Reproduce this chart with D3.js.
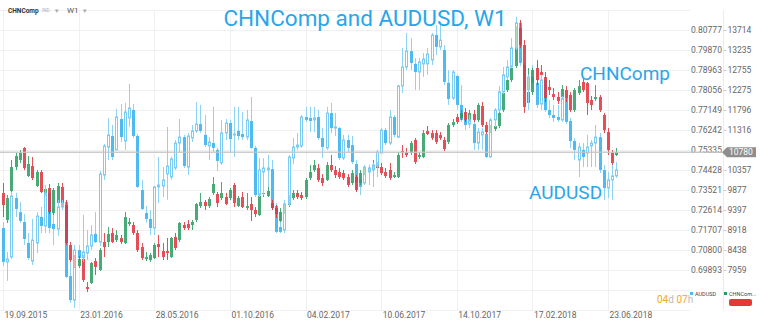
<!DOCTYPE html>
<html>
<head>
<meta charset="utf-8">
<script src="https://cdnjs.cloudflare.com/ajax/libs/d3/7.8.5/d3.min.js"></script>
<style>
  body { margin: 0; background: #fff; }
  svg { display: block; font-family: Roboto, "Open Sans", sans-serif; }
</style>
</head>
<body>
<svg class="chart"></svg>
<script>
const width = 760, height = 325;

const dateLabels = ["19.09.2015", "23.01.2016", "28.05.2016", "01.10.2016", "04.02.2017",
  "10.06.2017", "14.10.2017", "17.02.2018", "23.06.2018"];
const audTicks = [0.80777, 0.79870, 0.78963, 0.78056, 0.77149, 0.76242, 0.75335,
  0.74428, 0.73521, 0.72614, 0.71707, 0.70800, 0.69893];
// 10836 sits under the last-price badge, so it is not labelled
const chnTicks = [13714, 13235, 12755, 12275, 11796, 11316, 10357, 9877, 9397, 8918, 8438, 7959];
const chnLast = 10780;

// AUDUSD weekly
const audOpen = [0.7180,0.7026,0.7048,0.7316,0.7252,0.7207,0.7112,0.7030,0.7112,0.7230,
  0.7189,0.7339,0.7198,0.7175,0.7275,0.7298,0.6962,0.6853,0.7080,0.7044,
  0.7066,0.7098,0.7153,0.7116,0.7420,0.7547,0.7597,0.7534,0.7674,0.7574,
  0.7679,0.7715,0.7597,0.7352,0.7248,0.7221,0.7180,0.7366,0.7370,0.7425,
  0.7411,0.7452,0.7565,0.7592,0.7456,0.7588,0.7620,0.7651,0.7602,0.7552,
  0.7565,0.7534,0.7475,0.7611,0.7656,0.7602,0.7620,0.7606,0.7592,0.7665,
  0.7543,0.7329,0.7434,0.7443,0.7447,0.7280,0.7184,0.7171,0.7289,0.7497,
  0.7547,0.7552,0.7683,0.7679,0.7670,0.7683,0.7588,0.7543,0.7701,0.7633,
  0.7633,0.7497,0.7579,0.7556,0.7470,0.7398,0.7384,0.7434,0.7443,0.7461,
  0.7520,0.7624,0.7565,0.7683,0.7592,0.7824,0.7910,0.7982,0.7924,0.7887,
  0.7924,0.7924,0.7942,0.8055,0.8001,0.7987,0.7838,0.7769,0.7869,0.7738,
  0.7670,0.7651,0.7651,0.7565,0.7602,0.7606,0.7502,0.7670,0.7715,0.7797,
  0.7865,0.7910,0.7996,0.8110,0.7919,0.7806,0.7865,0.7838,0.7742,0.7851,
  0.7715,0.7692,0.7683,0.7670,0.7769,0.7665,0.7574,0.7488,0.7534,0.7520,
  0.7552,0.7565,0.7592,0.7443,0.7361,0.7398,0.7416];
const audHigh = [0.7207,0.7071,0.7343,0.7339,0.7298,0.7243,0.7157,0.7221,0.7252,0.7275,
  0.7375,0.7352,0.7271,0.7307,0.7307,0.7302,0.7026,0.7103,0.7103,0.7239,
  0.7171,0.7193,0.7252,0.7438,0.7561,0.7679,0.7647,0.7720,0.7742,0.7747,
  0.7833,0.7742,0.7606,0.7398,0.7280,0.7261,0.7370,0.7502,0.7456,0.7638,
  0.7502,0.7579,0.7674,0.7602,0.7611,0.7647,0.7751,0.7738,0.7692,0.7592,
  0.7729,0.7543,0.7670,0.7674,0.7670,0.7729,0.7729,0.7706,0.7715,0.7774,
  0.7552,0.7497,0.7497,0.7511,0.7488,0.7293,0.7261,0.7307,0.7511,0.7588,
  0.7611,0.7692,0.7729,0.7729,0.7729,0.7715,0.7633,0.7729,0.7747,0.7701,
  0.7638,0.7602,0.7602,0.7597,0.7488,0.7434,0.7466,0.7466,0.7475,0.7534,
  0.7633,0.7633,0.7715,0.7692,0.7828,0.7996,0.8064,0.8041,0.7951,0.7951,
  0.7973,0.7996,0.8064,0.8100,0.8114,0.8010,0.7896,0.7896,0.7874,0.7828,
  0.7715,0.7692,0.7670,0.7633,0.7633,0.7624,0.7679,0.7724,0.7824,0.7910,
  0.7942,0.8041,0.8137,0.8119,0.7933,0.7874,0.7919,0.7928,0.7874,0.7874,
  0.7760,0.7738,0.7738,0.7778,0.7778,0.7679,0.7588,0.7565,0.7565,0.7602,
  0.7579,0.7647,0.7611,0.7466,0.7434,0.7466,0.7479];
const audLow = [0.7008,0.6940,0.7039,0.7230,0.7203,0.7103,0.7035,0.7012,0.7066,0.7157,
  0.7157,0.7157,0.7103,0.7144,0.7261,0.6953,0.6840,0.6817,0.7026,0.7026,
  0.7035,0.7080,0.7112,0.7098,0.7398,0.7488,0.7488,0.7534,0.7570,0.7534,
  0.7638,0.7588,0.7361,0.7261,0.7203,0.7148,0.7148,0.7293,0.7320,0.7307,
  0.7398,0.7443,0.7524,0.7452,0.7420,0.7570,0.7611,0.7611,0.7547,0.7488,
  0.7524,0.7438,0.7466,0.7579,0.7524,0.7502,0.7579,0.7579,0.7579,0.7538,
  0.7320,0.7320,0.7329,0.7366,0.7261,0.7157,0.7157,0.7157,0.7280,0.7470,
  0.7534,0.7543,0.7661,0.7615,0.7615,0.7579,0.7497,0.7534,0.7611,0.7597,
  0.7488,0.7488,0.7524,0.7470,0.7343,0.7329,0.7375,0.7375,0.7366,0.7411,
  0.7520,0.7556,0.7556,0.7592,0.7588,0.7792,0.7896,0.7896,0.7806,0.7806,
  0.7865,0.7874,0.7919,0.7964,0.7987,0.7828,0.7738,0.7760,0.7715,0.7661,
  0.7624,0.7633,0.7534,0.7534,0.7534,0.7497,0.7497,0.7638,0.7706,0.7787,
  0.7851,0.7905,0.7987,0.7914,0.7792,0.7715,0.7819,0.7724,0.7715,0.7706,
  0.7679,0.7661,0.7661,0.7661,0.7651,0.7543,0.7488,0.7411,0.7456,0.7456,
  0.7456,0.7456,0.7429,0.7307,0.7316,0.7307,0.7407];
const audClose = [0.7026,0.7039,0.7325,0.7266,0.7212,0.7130,0.7044,0.7125,0.7234,0.7189,
  0.7339,0.7180,0.7175,0.7275,0.7293,0.6958,0.6853,0.7080,0.7044,0.7071,
  0.7098,0.7148,0.7116,0.7425,0.7552,0.7602,0.7502,0.7683,0.7592,0.7706,
  0.7724,0.7597,0.7366,0.7266,0.7221,0.7180,0.7366,0.7375,0.7398,0.7461,
  0.7493,0.7565,0.7592,0.7461,0.7597,0.7620,0.7651,0.7620,0.7556,0.7570,
  0.7543,0.7484,0.7611,0.7656,0.7583,0.7606,0.7597,0.7592,0.7670,0.7543,
  0.7329,0.7443,0.7452,0.7452,0.7271,0.7162,0.7162,0.7289,0.7502,0.7547,
  0.7556,0.7683,0.7670,0.7665,0.7679,0.7588,0.7547,0.7701,0.7633,0.7638,
  0.7497,0.7579,0.7543,0.7479,0.7388,0.7366,0.7456,0.7452,0.7466,0.7524,
  0.7624,0.7565,0.7683,0.7602,0.7824,0.7910,0.7982,0.7928,0.7887,0.7933,
  0.7946,0.7969,0.8055,0.8001,0.8032,0.7842,0.7765,0.7887,0.7738,0.7670,
  0.7647,0.7670,0.7565,0.7615,0.7615,0.7502,0.7670,0.7715,0.7797,0.7874,
  0.7910,0.7996,0.8110,0.7928,0.7806,0.7865,0.7838,0.7738,0.7851,0.7715,
  0.7692,0.7679,0.7670,0.7769,0.7661,0.7574,0.7534,0.7547,0.7502,0.7547,
  0.7565,0.7592,0.7443,0.7361,0.7398,0.7416,0.7443];

// CHNComp weekly
const chnOpen = [9805,9158,9853,10428,10596,10884,10212,10452,9973,10308,
  9805,9925,9325,9565,9949,9517,8558,8151,8055,8222,
  7551,7647,8175,7959,8630,8630,8846,8678,8726,8606,
  9062,9038,8846,8510,8222,8199,8246,8582,8414,8414,
  8270,8750,8678,9038,9062,9038,9158,9493,9589,9493,
  9805,9781,9685,9709,9685,9997,9493,9709,9445,9541,
  9397,9277,9781,9733,9565,9445,9134,9349,9517,9685,
  9805,9757,9709,10164,10356,10404,10164,10117,10476,10356,
  10308,10284,10188,10045,10188,10045,10284,10308,10404,10452,
  10428,10308,10356,10188,10188,10812,10788,10764,11076,10668,
  10668,11291,11243,11243,11195,11076,11028,11435,11627,11603,
  11747,11555,11699,11555,11891,11435,11291,11339,11411,11795,
  12274,12514,12850,13761,13353,11963,12226,12802,12706,12586,
  12346,12178,12107,12107,12274,12155,11795,12202,12466,12442,
  12035,12059,12107,11675,11267,10764,10716];
const chnHigh = [10045,9757,10596,10764,10836,10908,10692,10668,10356,10356,
  9997,10021,9925,10045,10045,9637,8630,8318,8294,8318,
  7671,8151,8246,8486,8846,8990,8966,8918,8798,9349,
  9206,9110,8918,8606,8390,8366,8606,8798,8606,8726,
  8750,8846,9110,9110,9158,9158,9565,9805,9637,9709,
  10188,9829,10069,9805,9925,10045,9733,9829,9805,9709,
  9469,9805,9997,9949,9637,9517,9445,9565,9757,9877,
  9877,9829,10164,10476,10596,10500,10260,10548,10716,10452,
  10404,10356,10260,10356,10236,10356,10476,10476,10596,10548,
  10524,10404,10524,10308,10788,10956,10884,11052,11123,10788,
  11315,11411,11315,11315,11267,11148,11483,11579,11699,11795,
  11843,11795,11795,11963,11987,11507,11435,11459,11771,12250,
  12610,12874,13809,13953,13473,12802,12802,12994,12874,12706,
  12514,12322,12226,12394,12370,12226,12322,12514,12562,12466,
  12130,12394,12155,11723,11363,10836,10884];
const chnLow = [9229,9086,9805,10356,10524,10356,10188,10117,9949,9805,
  9733,9301,9277,9517,9445,8558,8151,8007,8007,7671,
  7431,7623,7839,7935,8270,8510,8606,8630,8582,8582,
  9014,8798,8390,8199,8175,8151,8222,8270,8199,8199,
  8246,8438,8630,8918,8918,8918,9110,9445,9397,9445,
  9757,9469,9637,9517,9637,9469,9469,9445,9397,9134,
  9229,9253,9709,9709,9397,9206,9110,9301,9469,9637,
  9661,9637,9661,10117,10308,10069,9973,10093,10308,10164,
  10141,10117,9949,9997,9829,9997,10236,10260,10356,10356,
  10236,10164,10117,10164,10164,10644,10668,10716,10500,10620,
  10644,11195,11076,10980,11076,10812,10980,11387,11459,11555,
  11507,11507,11507,11507,11387,11219,11243,11291,11363,11747,
  12226,12466,12802,13281,11723,11867,12155,12394,12514,11987,
  12155,12035,11939,12035,11987,11747,11747,12155,12226,11675,
  11795,12011,11747,11243,10716,10452,10692];
const chnClose = [9517,9685,10428,10692,10764,10404,10500,10164,10308,9829,
  9901,9349,9877,9973,9469,8606,8199,8079,8222,7719,
  7503,8127,8031,8438,8510,8822,8630,8798,8630,9229,
  9110,8846,8438,8246,8270,8318,8558,8510,8270,8366,
  8726,8486,9086,8966,8966,9110,9541,9589,9493,9661,
  10021,9565,9805,9541,9877,9565,9685,9469,9493,9397,
  9301,9733,9805,9853,9445,9301,9349,9517,9685,9805,
  9709,9685,10117,10308,10476,10117,10045,10476,10356,10236,
  10188,10164,9997,10284,9877,10284,10404,10380,10476,10404,
  10284,10212,10164,10236,10716,10764,10716,11004,10548,10716,
  11243,11219,11123,11028,11123,10860,11435,11507,11507,11723,
  11555,11723,11555,11915,11435,11267,11387,11411,11723,12202,
  12514,12802,13713,13353,11867,12226,12754,12514,12634,12083,
  12274,12107,12011,12298,12083,11795,12274,12370,12274,11963,
  11915,12107,11795,11315,10836,10524,10780];

const audFill = "#4dbaf2", audWick = "#8dd3f6", audHollow = "#7ccbf3";
const chnUp = "#279c60", chnDown = "#e2303a";

const svg = d3.select(".chart").attr("width", width).attr("height", height);

const parse = d3.timeParse("%d.%m.%Y");
const tickDates = dateLabels.map(parse);
const weeks = audClose.map((d, i) => d3.timeDay.offset(tickDates[0], 7 * i));

let x = d3.scaleTime()
  .domain([tickDates[0], tickDates[tickDates.length - 1]])
  .range([3, 608]);
let yAud = d3.scaleLinear()
  .domain([audTicks[audTicks.length - 1], audTicks[0]])
  .range([270, 30]);
let yChn = d3.scaleLinear()
  .domain([chnTicks[chnTicks.length - 1], chnTicks[0]])
  .range([270, 30]);

// grid
const step = audTicks[0] - audTicks[1];
const gridVals = d3.range(-1, audTicks.length + 2).map(k => audTicks[0] - k * step);
const grid = svg.append("g").attr("stroke", "#f0f0f0").attr("stroke-width", 1);
grid.selectAll("line.h").data(gridVals).join("line")
  .attr("x1", 0).attr("x2", 690)
  .attr("y1", d => Math.round(yAud(d)) + 0.5).attr("y2", d => Math.round(yAud(d)) + 0.5);
grid.selectAll("line.v").data(tickDates).join("line")
  .attr("x1", d => Math.round(x(d)) + 0.5).attr("x2", d => Math.round(x(d)) + 0.5)
  .attr("y1", 10).attr("y2", 310);
svg.append("line").attr("x1", 723.5).attr("x2", 723.5).attr("y1", 10).attr("y2", 310)
  .attr("stroke", "#ececec");

// x axis labels
let xAxis = d3.axisBottom(x).tickValues(tickDates).tickSize(0).tickFormat(d3.timeFormat("%d.%m.%Y"));
svg.append("g")
  .attr("transform", "translate(0,309)")
  .call(xAxis)
  .call(g => g.select(".domain").remove())
  .selectAll("text")
  .attr("text-anchor", "start")
  .attr("dx", 1)
  .attr("fill", "#666")
  .style("font-size", "8.5px")
  .style("font-family", "Roboto, sans-serif");

// right axes
let audAxis = d3.axisRight(yAud).tickValues(audTicks).tickSize(0).tickFormat(d3.format(".5f"));
svg.append("g")
  .attr("transform", "translate(689,0)")
  .call(audAxis)
  .call(g => g.select(".domain").remove())
  .selectAll("text")
  .attr("x", 2)
  .attr("fill", "#666")
  .style("font-size", "8.5px")
  .style("font-family", "Roboto, sans-serif");

let chnAxis = d3.axisRight(yChn).tickValues(chnTicks).tickSize(3).tickFormat(d3.format("d"));
svg.append("g")
  .attr("transform", "translate(723.5,0)")
  .call(chnAxis)
  .call(g => g.select(".domain").remove())
  .call(g => g.selectAll("line").attr("stroke", "#ccc"))
  .selectAll("text")
  .attr("x", 4)
  .attr("fill", "#666")
  .style("font-size", "8.5px")
  .style("font-family", "Roboto, sans-serif");

const cx = i => Math.round(x(weeks[i]));
const idx = d3.range(audClose.length);

// AUDUSD falling weeks (filled)
const audDown = idx.filter(i => audClose[i] < audOpen[i]);
const audUp = idx.filter(i => audClose[i] >= audOpen[i]);

const gAudDown = svg.append("g");
gAudDown.selectAll("line").data(audDown).join("line")
  .attr("x1", i => cx(i) + 0.5).attr("x2", i => cx(i) + 0.5)
  .attr("y1", i => yAud(audHigh[i])).attr("y2", i => yAud(audLow[i]))
  .attr("stroke", audWick).attr("stroke-width", 1);
gAudDown.selectAll("rect").data(audDown).join("rect")
  .attr("x", i => cx(i) - 1).attr("width", 3)
  .attr("y", i => yAud(audOpen[i]))
  .attr("height", i => Math.max(1, yAud(audClose[i]) - yAud(audOpen[i])))
  .attr("fill", audFill);

// CHNComp candles
const gChn = svg.append("g").attr("opacity", 0.85);
gChn.selectAll("line").data(idx).join("line")
  .attr("x1", i => cx(i) + 0.5).attr("x2", i => cx(i) + 0.5)
  .attr("y1", i => yChn(chnHigh[i])).attr("y2", i => yChn(chnLow[i]))
  .attr("stroke", i => chnClose[i] >= chnOpen[i] ? chnUp : chnDown).attr("stroke-width", 1);
gChn.selectAll("rect").data(idx).join("rect")
  .attr("x", i => cx(i) - 1).attr("width", 3)
  .attr("y", i => yChn(Math.max(chnOpen[i], chnClose[i])))
  .attr("height", i => Math.max(1, Math.abs(yChn(chnOpen[i]) - yChn(chnClose[i]))))
  .attr("fill", i => chnClose[i] >= chnOpen[i] ? chnUp : chnDown);

// AUDUSD rising weeks (hollow)
const gAudUp = svg.append("g");
gAudUp.selectAll("line.hi").data(audUp).join("line")
  .attr("x1", i => cx(i) + 0.5).attr("x2", i => cx(i) + 0.5)
  .attr("y1", i => yAud(audHigh[i])).attr("y2", i => yAud(audClose[i]))
  .attr("stroke", audWick);
gAudUp.selectAll("line.lo").data(audUp).join("line")
  .attr("x1", i => cx(i) + 0.5).attr("x2", i => cx(i) + 0.5)
  .attr("y1", i => yAud(audOpen[i])).attr("y2", i => yAud(audLow[i]))
  .attr("stroke", audWick);
gAudUp.selectAll("rect").data(audUp).join("rect")
  .attr("x", i => cx(i) - 0.5).attr("width", 2)
  .attr("y", i => yAud(audClose[i]))
  .attr("height", i => Math.max(1, yAud(audOpen[i]) - yAud(audClose[i])))
  .attr("fill", "rgba(255,255,255,0.55)")
  .attr("stroke", audHollow).attr("stroke-width", 1);

// last price line + badge
const yLast = yChn(chnLast);
svg.append("line").attr("x1", 0).attr("x2", 722).attr("y1", yLast).attr("y2", yLast)
  .attr("stroke", "#c4c4c4").attr("stroke-width", 1.5).attr("opacity", 0.85);
svg.append("path")
  .attr("d", `M722,${yLast} L727,${yLast - 5} L756,${yLast - 5} L756,${yLast + 5} L727,${yLast + 5} Z`)
  .attr("fill", "#8e8e8e");
svg.append("text").attr("x", 729).attr("y", yLast + 3)
  .attr("fill", "#fff").style("font-size", "8.5px").text(d3.format("d")(chnLast));

// titles
svg.append("text").attr("x", 365).attr("y", 26).attr("text-anchor", "middle")
  .attr("fill", "#29a6ea").style("font-size", "22.5px").text("CHNComp and AUDUSD, W1");
svg.append("text").attr("x", 580).attr("y", 80)
  .attr("fill", "#29a6ea").style("font-size", "19px").text("CHNComp");
svg.append("text").attr("x", 529).attr("y", 199)
  .attr("fill", "#29a6ea").style("font-size", "19px").text("AUDUSD");

// header
svg.append("text").attr("x", 8).attr("y", 13).attr("fill", "#333")
  .style("font-size", "6.5px").style("font-weight", "bold").text("CHNComp");
svg.append("text").attr("x", 42).attr("y", 12).attr("fill", "#aab")
  .style("font-size", "4.5px").text("IND");
svg.append("text").attr("x", 55).attr("y", 13).attr("fill", "#aaa")
  .style("font-size", "7px").text("▾");
svg.append("text").attr("x", 67).attr("y", 13).attr("fill", "#555")
  .style("font-size", "8px").text("W1");
svg.append("text").attr("x", 83).attr("y", 13).attr("fill", "#aaa")
  .style("font-size", "7px").text("▾");

// countdown
const cd = svg.append("text").attr("x", 657).attr("y", 303).style("font-size", "10px");
cd.append("tspan").attr("fill", "#f5a623").text("04");
cd.append("tspan").attr("fill", "#bbb").text("d ");
cd.append("tspan").attr("fill", "#f5a623").text("07");
cd.append("tspan").attr("fill", "#bbb").text("h");

// legend
svg.append("rect").attr("x", 690).attr("y", 292).attr("width", 3).attr("height", 3).attr("fill", audFill);
svg.append("text").attr("x", 695).attr("y", 295.5).attr("fill", "#444")
  .style("font-size", "5.5px").text("AUDUSD");
svg.append("rect").attr("x", 724).attr("y", 292).attr("width", 3).attr("height", 3).attr("fill", chnUp);
svg.append("text").attr("x", 729).attr("y", 295.5).attr("fill", "#444")
  .style("font-size", "5.5px").text("CHNCom...");
svg.append("rect").attr("x", 729).attr("y", 299).attr("width", 23).attr("height", 7).attr("rx", 2)
  .attr("fill", "#e53935");
</script>
</body>
</html>
